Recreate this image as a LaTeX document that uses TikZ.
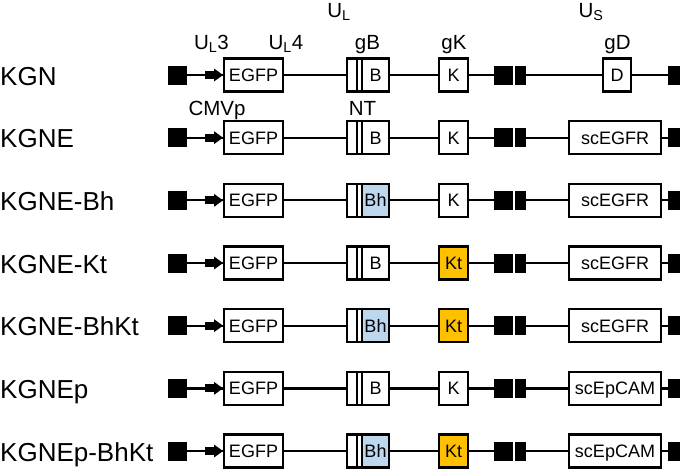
\documentclass[tikz,border=0pt]{standalone}
\usepackage{fontspec}
\setmainfont{Liberation Sans}
\usepackage{tikz}
\usetikzlibrary{arrows.meta}
\definecolor{bhcolor}{RGB}{189, 215, 238}
\definecolor{ktcolor}{RGB}{255, 192, 0}

\begin{document}
\begin{tikzpicture}[
    x=1pt, y=-1pt,
    gene/.style={draw, line width=2.3pt, outer sep=0pt, inner sep=0pt, minimum height=33pt, text height=12.8pt, text depth=0pt, font=\fontsize{18}{20}\selectfont},
    block/.style={fill=black, outer sep=0pt, inner sep=0pt, minimum height=19pt},
    construct/.style={anchor=base west, inner sep=0pt, font=\fontsize{26}{30}\selectfont},
    locus/.style={anchor=base, inner sep=0pt, font=\fontsize{20.5}{24}\selectfont},
    backbone/.style={line width=2.3pt},
    promoter/.style={-{Triangle[length=9pt, width=13pt, line width=0pt]}, line width=8pt}
]
    \useasboundingbox (0,0) rectangle (680,471);

    % Constructs, one row each
    \foreach \cname/\btxt/\bcol/\ktxt/\kcol/\utxt/\ux/\uwid [count=\i] in {
        KGN/B/white/K/white/D/617/28,
        KGNE/B/white/K/white/scEGFR/615/92,
        KGNE-Bh/Bh/bhcolor/K/white/scEGFR/615/92,
        KGNE-Kt/B/white/Kt/ktcolor/scEGFR/615/92,
        KGNE-BhKt/Bh/bhcolor/Kt/ktcolor/scEGFR/615/92,
        KGNEp/B/white/K/white/scEpCAM/615/92,
        KGNEp-BhKt/Bh/bhcolor/Kt/ktcolor/scEpCAM/615/92}{
        \pgfmathsetmacro{\rowy}{75+62.67*(\i-1)}
        \node[construct] (name\i) at (0,\rowy+10) {\cname};
        \node[block, minimum width=19pt] (lsq\i) at (177.5,\rowy) {};
        \node[gene, minimum width=59pt] (egfp\i) at (253.5,\rowy) {EGFP};
        \node[gene, minimum width=15pt] (nt\i) at (354.5,\rowy) {};
        \draw[backbone] ([xshift=2.5pt]nt\i.north) -- ([xshift=2.5pt]nt\i.south);
        \node[gene, fill=\bcol, minimum width=27pt] (b\i) at (375.5,\rowy) {\btxt};
        \node[gene, fill=\kcol, minimum width=29pt] (k\i) at (453.5,\rowy) {\ktxt};
        \node[block, minimum width=19pt] (sqa\i) at (503.5,\rowy) {};
        \node[block, minimum width=11pt] (sqb\i) at (520.5,\rowy) {};
        \node[gene, minimum width=\uwid pt] (us\i) at (\ux,\rowy) {\utxt};
        \node[block, minimum width=19pt] (rsq\i) at (677.5,\rowy) {};

        \draw[backbone] (lsq\i) -- (egfp\i) -- (nt\i)
                        (b\i) -- (k\i) -- (sqa\i)
                        (sqb\i) -- (us\i) -- (rsq\i);
        \draw[promoter] ([xshift=-19pt]egfp\i.west) -- ([xshift=-1pt]egfp\i.west);
    }

    % Loci above the first row
    \node[locus] (ul) at (339,17) {U\textsubscript{L}};
    \node[locus] (us) at (591,17) {U\textsubscript{S}};
    \node[locus] (ul3) at (211.5,49) {U\textsubscript{L}3};
    \node[locus] (ul4) at (286,49) {U\textsubscript{L}4};
    \node[locus] (gb) at (367.5,49) {gB};
    \node[locus] (gk) at (454,49) {gK};
    \node[locus] (gd) at (617.5,49) {gD};
    \node[locus] (cmvp) at (217,115) {CMVp};
    \node[locus] (ntlab) at (362.5,115) {NT};
\end{tikzpicture}
\end{document}
